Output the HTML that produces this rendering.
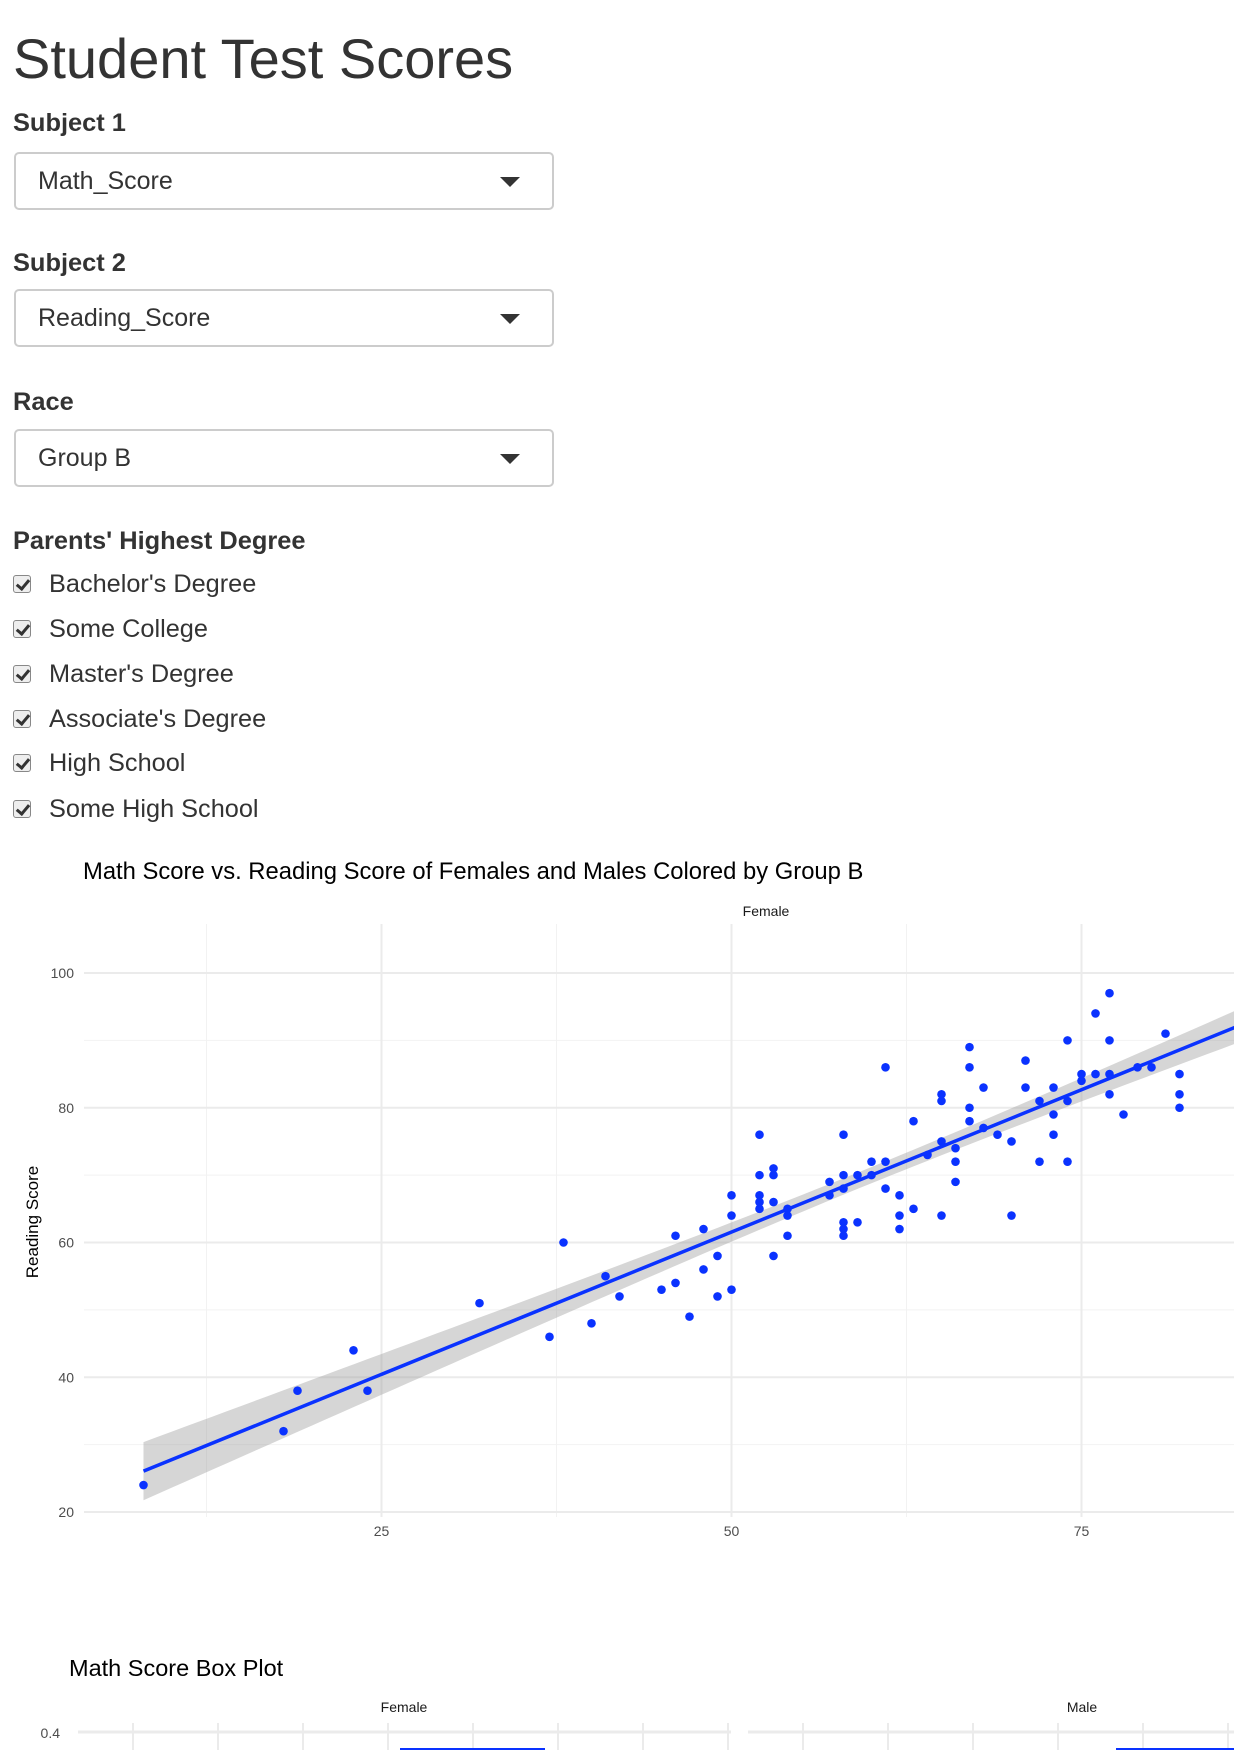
<!DOCTYPE html>
<html><head><meta charset="utf-8">
<style>
body{margin:0;width:1234px;height:1750px;overflow:hidden;background:#fff;font-family:"Liberation Sans",sans-serif;color:#333;position:relative}
.abs{position:absolute}
h1{position:absolute;left:13px;top:24px;margin:0;font-size:56px;font-weight:normal;color:#333;line-height:70px}
.lbl{position:absolute;left:13px;font-weight:bold;font-size:25.4px;line-height:28px}
.sel{position:absolute;left:14px;width:540px;height:58px;border:2px solid #ccc;border-radius:5px;box-sizing:border-box;font-size:25px;line-height:54px;padding-left:22px}
.sel .caret{position:absolute;right:32px;top:23px;width:0;height:0;border-left:10px solid transparent;border-right:10px solid transparent;border-top:10px solid #333}
.cb{position:absolute;left:13px;font-size:25.3px;line-height:30px}
.cb .box{position:absolute;left:0;top:6px;width:18px;height:18px;border:1px solid #888;border-radius:3px;background:#eee;box-sizing:border-box}
.cb .box:after{content:"";position:absolute;left:5px;top:1px;width:5px;height:10px;border:solid #333;border-width:0 3px 3px 0;transform:rotate(40deg)}
.cb span.t{position:absolute;left:36px;white-space:nowrap}
</style></head><body>
<h1>Student Test Scores</h1>
<div class="lbl" style="top:109px">Subject 1</div>
<div class="sel" style="top:152px">Math_Score<div class="caret"></div></div>
<div class="lbl" style="top:249px">Subject 2</div>
<div class="sel" style="top:289px">Reading_Score<div class="caret"></div></div>
<div class="lbl" style="top:388px">Race</div>
<div class="sel" style="top:429px">Group B<div class="caret"></div></div>
<div class="lbl" style="top:527px">Parents' Highest Degree</div>
<div class="cb" style="top:569px"><div class="box"></div><span class="t">Bachelor's Degree</span></div>
<div class="cb" style="top:614px"><div class="box"></div><span class="t">Some College</span></div>
<div class="cb" style="top:659px"><div class="box"></div><span class="t">Master's Degree</span></div>
<div class="cb" style="top:704px"><div class="box"></div><span class="t">Associate's Degree</span></div>
<div class="cb" style="top:748px"><div class="box"></div><span class="t">High School</span></div>
<div class="cb" style="top:794px"><div class="box"></div><span class="t">Some High School</span></div>

<svg class="abs" style="left:0;top:0" width="1234" height="1750" id="chart" font-family="Liberation Sans, sans-serif">
<text x="83" y="879" font-size="23.8" fill="#000">Math Score vs. Reading Score of Females and Males Colored by Group B</text>
<text x="766" y="916" font-size="14" fill="#1a1a1a" text-anchor="middle">Female</text>
<text transform="translate(38,1222) rotate(-90)" font-size="17" fill="#000" text-anchor="middle">Reading Score</text>
<g id="grid"></g><g id="band"></g><g id="pts"></g>
<text x="69" y="1676" font-size="23.5" fill="#000">Math Score Box Plot</text>
<text x="404" y="1712" font-size="14" fill="#1a1a1a" text-anchor="middle">Female</text>
<text x="1082" y="1712" font-size="14" fill="#1a1a1a" text-anchor="middle">Male</text>
<g id="box"></g>
</svg>
<script>
const mathScores=[8,18,19,23,24,32,37,38,40,41,42,45,46,46,47,48,48,49,49,50,50,50,52,52,52,52,52,53,53,53,53,54,54,54,57,57,58,58,58,58,58,58,59,59,60,60,61,61,61,62,62,62,63,63,64,65,65,65,65,66,66,66,67,67,67,67,68,68,69,70,70,71,71,72,72,73,73,73,74,74,74,75,75,76,76,77,77,77,77,78,79,80,81,82,82,82];
const readingScores=[24,32,38,44,38,51,46,60,48,55,52,53,54,61,49,56,62,52,58,53,64,67,76,70,67,66,65,71,70,66,58,65,64,61,69,67,76,70,68,63,62,61,70,63,72,70,86,72,68,67,64,62,78,65,73,82,81,75,64,74,72,69,89,86,80,78,83,77,76,75,64,87,83,81,72,83,79,76,90,81,72,85,84,94,85,97,90,85,82,79,86,86,91,85,82,80];
const xTicks=[25,50,75];
const yTicks=[20,40,60,80,100];
const boxTicks=[0.4];
const NS='http://www.w3.org/2000/svg';
function xs(v){return 31.5+v*14;}
function ys(v){return 1512-(v-20)*6.7375;}
const L=84,R=1234,T=924,B=1517;
function mk(tag,attrs,parent){const e=document.createElementNS(NS,tag);for(const k in attrs)e.setAttribute(k,attrs[k]);parent.appendChild(e);return e;}
const grid=document.getElementById('grid');
for(let v=12.5;v<=87.5;v+=25){const l=mk('line',{x1:xs(v),x2:xs(v),y1:T,y2:B,stroke:'#f2f2f2','stroke-width':1},grid);

}
for(let v=30;v<=110;v+=20){if(ys(v)<T)continue;const l=mk('line',{x1:L,x2:R,y1:ys(v),y2:ys(v),stroke:'#f2f2f2','stroke-width':1},grid);

}
xTicks.forEach(v=>{const l=mk('line',{x1:xs(v),x2:xs(v),y1:T,y2:B,stroke:'#ebebeb','stroke-width':2},grid);


const t=mk('text',{x:xs(v),y:1536,'font-size':14,fill:'#4d4d4d','text-anchor':'middle'},grid);t.textContent=v;

});
yTicks.forEach(v=>{const l=mk('line',{x1:L,x2:R,y1:ys(v),y2:ys(v),stroke:'#ebebeb','stroke-width':2},grid);


const t=mk('text',{x:74,y:ys(v)+5,'font-size':14,fill:'#4d4d4d','text-anchor':'end'},grid);t.textContent=v;

});
const n=mathScores.length;let mx=0,my=0;for(let i=0;i<n;i++){mx+=mathScores[i];my+=readingScores[i];}mx/=n;my/=n;
let sxx=0,sxy=0;for(let i=0;i<n;i++){sxx+=(mathScores[i]-mx)**2;sxy+=(mathScores[i]-mx)*(readingScores[i]-my);}
const b=sxy/sxx,a=my-b*mx;let sse=0;for(let i=0;i<n;i++){sse+=(readingScores[i]-a-b*mathScores[i])**2;}
const se=Math.sqrt(sse/(n-2));
const x0=Math.min(...mathScores),x1=92;
let up=[],lo=[];for(let x=x0;x<=x1;x+=1){const f=a+b*x,h=1.99*se*Math.sqrt(1/n+(x-mx)**2/sxx);up.push(xs(x)+','+ys(f+h));lo.unshift(xs(x)+','+ys(f-h));}
const band=document.getElementById('band');
const cp=mk('clipPath',{id:'cl'},band);mk('rect',{x:L,y:T,width:R-L,height:B-T},cp);
const poly=mk('polygon',{points:up.concat(lo).join(' '),fill:'#999','fill-opacity':0.4,'clip-path':'url(#cl)'},band);


const pts=document.getElementById('pts');
for(let i=0;i<n;i++){const c=mk('circle',{cx:xs(mathScores[i]),cy:ys(readingScores[i]),r:4.3,fill:'#0a32ff'},pts);

}
const ln=mk('line',{x1:xs(x0),y1:ys(a+b*x0),x2:xs(x1),y2:ys(a+b*x1),stroke:'#0a32ff','stroke-width':3.5,'clip-path':'url(#cl)'},pts);


const box=document.getElementById('box');
[[78,731],[748,1234]].forEach(([l,r])=>{
 for(let x=l+55;x<r;x+=85){const g=mk('line',{x1:x,x2:x,y1:1723,y2:1750,stroke:'#ebebeb','stroke-width':2},box);
 
 }
 boxTicks.forEach(v=>{const g=mk('line',{x1:l,x2:r,y1:1732,y2:1732,stroke:'#ebebeb','stroke-width':3},box);
 
 });
});
boxTicks.forEach(v=>{const t=mk('text',{x:60,y:1738,'font-size':14,fill:'#4d4d4d','text-anchor':'end'},box);t.textContent=v;

});
const b1=mk('rect',{x:400,y:1748,width:145,height:4,fill:'#0a32ff'},box);


const b2=mk('rect',{x:1116,y:1748,width:118,height:4,fill:'#0a32ff'},box);


</script>
</body></html>
